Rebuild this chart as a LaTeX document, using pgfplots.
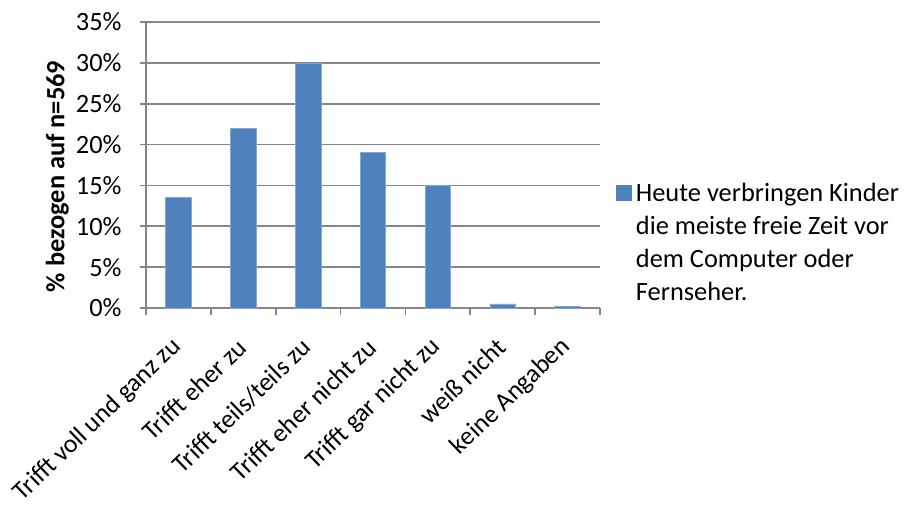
\documentclass[border=0pt]{standalone}
\usepackage{pgfplots}
\pgfplotsset{compat=1.18}
\usepackage{fontspec}
\setmainfont{Carlito}
\definecolor{barblue}{HTML}{4F81BD}
\definecolor{axgray}{HTML}{868686}
\begin{document}
\fontsize{13.2}{16.5}\selectfont
\begin{tikzpicture}
\useasboundingbox (0,0) rectangle (452pt,252pt);
\begin{axis}[
  at={(73pt,98pt)}, anchor=south west,
  scale only axis,
  width=227pt, height=143pt,
  ymin=0, ymax=35,
  ytick={0,5,...,35},
  yticklabel={\pgfmathprintnumber{\tick}\%},
  /pgf/number format/assume math mode=true,
  xmin=0.5, xmax=7.5,
  xtick={1,...,7},
  xticklabels={Trifft voll und ganz zu, Trifft eher zu, Trifft teils/teils zu, Trifft eher nicht zu, Trifft gar nicht zu, weiß nicht, keine Angaben},
  minor xtick={0.5,1.5,...,7.5},
  major x tick style={draw=none},
  minor x tick style={draw=axgray, line width=0.8pt},
  y tick style={draw=axgray, line width=0.8pt},
  tick align=outside,
  tick pos=left,
  major tick length=3pt,
  minor tick length=3.5pt,
  axis x line*=bottom,
  axis y line*=left,
  axis line style={draw=axgray, line width=0.8pt, -},
  ymajorgrids,
  grid style={draw=axgray, line width=0.8pt},
  xticklabel style={xshift=-0.5pt, yshift=-14.5pt, rotate=44, anchor=east, font=\fontsize{12.9}{16}\selectfont, inner sep=0pt},
  yticklabel style={font=\fontsize{13.2}{16}\selectfont, inner sep=0pt, xshift=-9pt},
  ylabel={\textbf{\% bezogen auf n=569}},
  ylabel style={font=\fontsize{13.2}{16}\selectfont},
  every axis y label/.style={at={(ticklabel cs:0.46)}, rotate=90, anchor=south, yshift=-1pt},
  ybar, bar width=12.8pt,
  legend style={draw=none, at={(1.035,0.405)}, anchor=west, font=\fontsize{13.2}{16.5}\selectfont, inner sep=0pt},
  legend cell align=left,
  legend image code/.code={\fill[barblue] (0pt,-4pt) rectangle (7.5pt,3.5pt);},
]
\addplot[fill=barblue, draw=barblue!70!white, line width=0.3pt] coordinates {
(1,13.5) (2,22) (3,30) (4,19) (5,15) (6,0.5) (7,0.2)};
\addlegendentry{\begin{tabular}[t]{@{}l@{}}Heute verbringen Kinder\\die meiste freie Zeit vor\\dem Computer oder\\Fernseher.\end{tabular}}
\end{axis}
\end{tikzpicture}
\end{document}
